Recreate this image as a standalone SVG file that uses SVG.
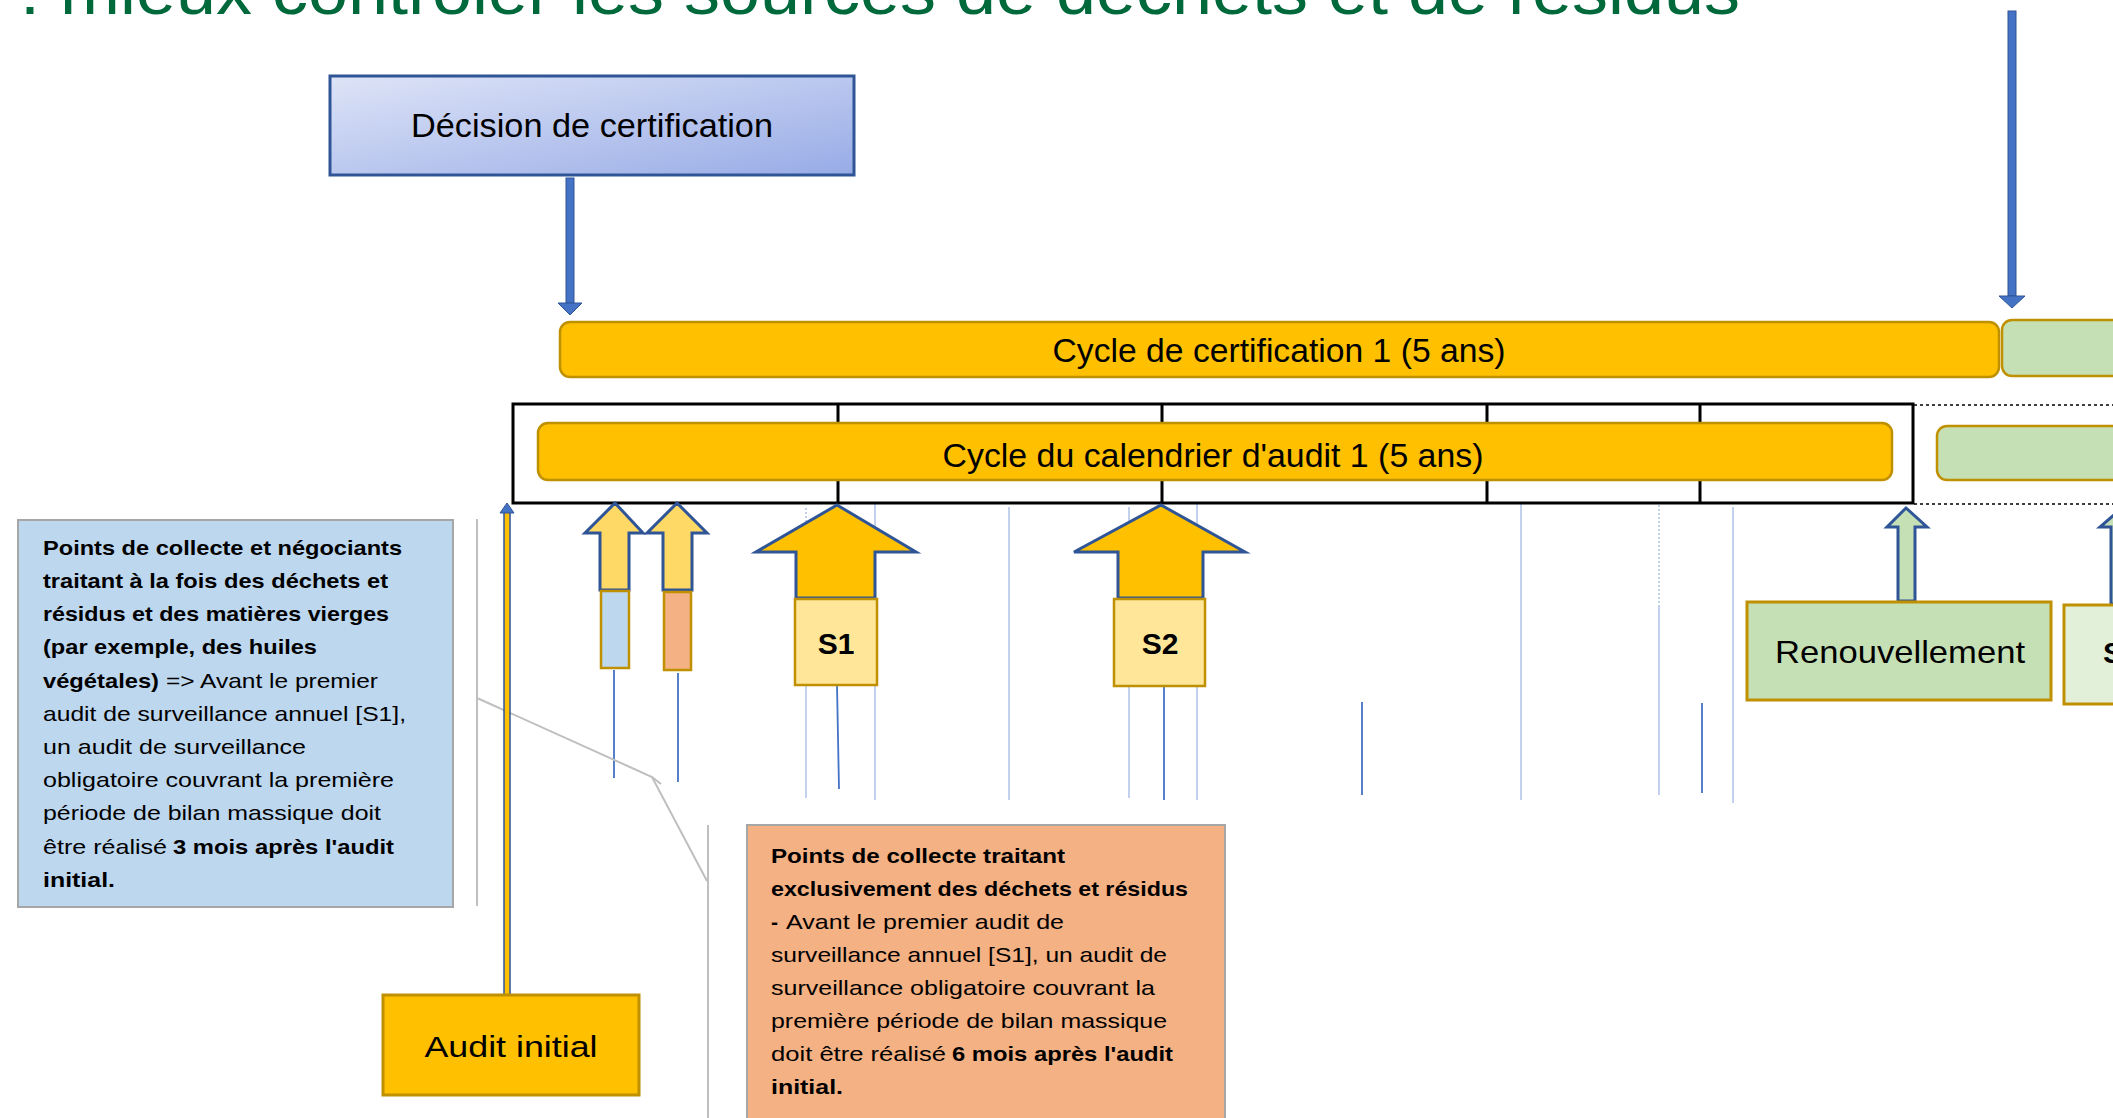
<svg xmlns="http://www.w3.org/2000/svg" width="2113" height="1118" viewBox="0 0 2113 1118">
<defs>
<linearGradient id="gDec" x1="0" y1="0" x2="1" y2="1">
<stop offset="0" stop-color="#DEE4F7"/>
<stop offset="1" stop-color="#97ABE6"/>
</linearGradient>
<style>
.t{font-family:"Liberation Sans",Arial,sans-serif;fill:#000}
.b{font-weight:bold}
.n{font-size:21px}
.bar-y{fill:#FFC000;stroke:#BF9000;stroke-width:2.5}
.bar-g{fill:#C5E0B4;stroke:#BF9000;stroke-width:2.5}
.gold{stroke:#BF9000;stroke-width:2.5}
.arr{stroke:#2F5597;stroke-width:3;stroke-linejoin:miter}
.lt{stroke:#AEC3E8;stroke-width:1.5;fill:none}
.ltd{stroke:#AEC3E8;stroke-width:1.5;fill:none;stroke-dasharray:2 2}
.dk{stroke:#4472C4;stroke-width:1.8;fill:none}
.gr{stroke:#BFBFBF;stroke-width:2;fill:none}
.blk{stroke:#000;stroke-width:3;fill:none}
.dot{stroke:#000;stroke-width:1.5;stroke-dasharray:3 3;fill:none}
.barrow{fill:#4472C4;stroke:#2F5597;stroke-width:1}
</style>
</defs>
<rect width="2113" height="1118" fill="#FFFFFF"/>

<g id="title">
<text x="20" y="14" font-family="Liberation Sans, Arial, sans-serif" font-size="68" fill="#00693C" textLength="1720" lengthAdjust="spacingAndGlyphs">: mieux contrôler les sources de déchets et de résidus</text>
</g>

<g id="connectors">
<path class="ltd" d="M806,508 V610"/>
<path class="lt" d="M806,610 V798"/>
<path class="lt" d="M875,503 V800"/>
<path class="lt" d="M1009,507 V800"/>
<path class="lt" d="M1129,507 V798"/>
<path class="lt" d="M1197,503 V800"/>
<path class="lt" d="M1521,503 V800"/>
<path class="ltd" d="M1659,505 V607"/>
<path class="lt" d="M1659,607 V795"/>
<path class="lt" d="M1733,507 V803"/>
<path class="dk" d="M614,670 V778"/>
<path class="dk" d="M678,673 V782"/>
<path class="dk" d="M837,685 L839,789"/>
<path class="dk" d="M1164,687 V800"/>
<path class="dk" d="M1362,702 V795"/>
<path class="dk" d="M1702,703 V793"/>
<path class="gr" d="M477,519 V906"/>
<path class="gr" d="M477,698 L652,777 L707,881"/>
<path class="gr" d="M652,777 L661,784"/>
<path class="gr" d="M708,825 V1118"/>
<rect class="barrow" x="566" y="178" width="8" height="125"/>
<polygon class="barrow" points="558,303 582,303 570,315"/>
<rect class="barrow" x="2008" y="11" width="8" height="285"/>
<polygon class="barrow" points="1999,296 2025,296 2012,308"/>
<rect x="504" y="512" width="6" height="484" fill="#FFC000" stroke="#2F5597" stroke-width="1.5"/>
<polygon class="barrow" points="507,503 514,513 500,513"/>
</g>

<g id="node-decision">
<rect x="330" y="76" width="524" height="99" fill="url(#gDec)" stroke="#2F5597" stroke-width="3"/>
<text class="t" x="592" y="137" font-size="33" text-anchor="middle" textLength="362" lengthAdjust="spacingAndGlyphs">Décision de certification</text>
</g>

<g id="node-cycle-cert-1">
<rect class="bar-y" x="560" y="322" width="1439" height="55" rx="10"/>
<text class="t" x="1279" y="362" font-size="33" text-anchor="middle" textLength="453" lengthAdjust="spacingAndGlyphs">Cycle de certification 1 (5 ans)</text>
</g>
<g id="node-cycle-cert-2">
<rect class="bar-g" x="2002" y="320" width="160" height="56" rx="10"/>
</g>

<g id="node-calendar">
<rect x="513" y="404" width="1400" height="99" fill="#FFFFFF" stroke="#000" stroke-width="3"/>
<path class="blk" d="M838,404 V503 M1162,404 V503 M1487,404 V503 M1700,404 V503"/>
<path class="dot" d="M1914,405 H2113 M1914,504 H2113"/>
</g>

<g id="node-cycle-audit-1">
<rect class="bar-y" x="538" y="423" width="1354" height="57" rx="10"/>
<text class="t" x="1213" y="467" font-size="33" text-anchor="middle" textLength="541" lengthAdjust="spacingAndGlyphs">Cycle du calendrier d'audit 1 (5 ans)</text>
</g>
<g id="node-cycle-audit-2">
<rect class="bar-g" x="1937" y="426" width="200" height="54" rx="10"/>
</g>

<g id="node-pre-audit-blue">
<polygon class="arr" fill="#FFD966" points="615,503 643,533 629,533 629,590 600,590 600,533 585,533"/>
<rect class="gold" x="601" y="591" width="28" height="77" fill="#BDD7EE"/>
</g>
<g id="node-pre-audit-orange">
<polygon class="arr" fill="#FFD966" points="677,503 707,533 692,533 692,590 663,590 663,533 647,533"/>
<rect class="gold" x="664" y="592" width="27" height="78" fill="#F4B183"/>
</g>

<g id="node-s1">
<polygon class="arr" fill="#FFC000" points="837,505 916,552 875,552 875,598 796,598 796,552 756,552"/>
<rect class="gold" x="795" y="599" width="82" height="86" fill="#FFE699"/>
<text class="t b" x="836" y="654" font-size="30" text-anchor="middle">S1</text>
</g>

<g id="node-s2">
<polygon class="arr" fill="#FFC000" points="1161,505 1245,552 1203,552 1203,598 1118,598 1118,552 1074,552"/>
<rect class="gold" x="1114" y="599" width="91" height="87" fill="#FFE699"/>
<text class="t b" x="1160" y="654" font-size="30" text-anchor="middle">S2</text>
</g>

<g id="node-renouvellement">
<polygon class="arr" stroke-width="2.5" fill="#C5E0B4" points="1906,508 1927,527 1915,527 1915,601 1898,601 1898,527 1887,527"/>
<rect x="1747" y="602" width="304" height="98" fill="#C5E0B4" stroke="#BF9000" stroke-width="3"/>
<text class="t" x="1900" y="663" font-size="32" text-anchor="middle" textLength="250" lengthAdjust="spacingAndGlyphs">Renouvellement</text>
</g>

<g id="node-s-next">
<polygon class="arr" stroke-width="2.5" fill="#C5E0B4" points="2122,508 2142,527 2130,527 2130,604 2111,604 2111,527 2100,527"/>
<rect x="2064" y="605" width="100" height="99" fill="#E2F0D9" stroke="#BF9000" stroke-width="3"/>
<text class="t b" x="2103" y="663" font-size="30">S</text>
</g>

<g id="node-audit-initial">
<rect x="383" y="995" width="256" height="100" fill="#FFC000" stroke="#BF9000" stroke-width="3"/>
<text class="t" x="511" y="1057" font-size="30" text-anchor="middle" textLength="173" lengthAdjust="spacingAndGlyphs">Audit initial</text>
</g>

<g id="node-note-blue">
<rect x="18" y="520" width="435" height="387" fill="#BDD7EE" stroke="#A6A6A6" stroke-width="2"/>
<g class="t n">
<text class="b" x="43" y="555" textLength="359" lengthAdjust="spacingAndGlyphs">Points de collecte et négociants</text>
<text class="b" x="43" y="588" textLength="345" lengthAdjust="spacingAndGlyphs">traitant à la fois des déchets et</text>
<text class="b" x="43" y="621" textLength="346" lengthAdjust="spacingAndGlyphs">résidus et des matières vierges</text>
<text class="b" x="43" y="654" textLength="274" lengthAdjust="spacingAndGlyphs">(par exemple, des huiles</text>
<text class="b" x="43" y="688" textLength="116" lengthAdjust="spacingAndGlyphs">végétales)</text>
<text x="166" y="688" textLength="212" lengthAdjust="spacingAndGlyphs">=&gt; Avant le premier</text>
<text x="43" y="721" textLength="363" lengthAdjust="spacingAndGlyphs">audit de surveillance annuel [S1],</text>
<text x="43" y="754" textLength="263" lengthAdjust="spacingAndGlyphs">un audit de surveillance</text>
<text x="43" y="787" textLength="351" lengthAdjust="spacingAndGlyphs">obligatoire couvrant la première</text>
<text x="43" y="820" textLength="338" lengthAdjust="spacingAndGlyphs">période de bilan massique doit</text>
<text x="43" y="854" textLength="124" lengthAdjust="spacingAndGlyphs">être réalisé</text>
<text class="b" x="173" y="854" textLength="221" lengthAdjust="spacingAndGlyphs">3 mois après l'audit</text>
<text class="b" x="43" y="887" textLength="72" lengthAdjust="spacingAndGlyphs">initial.</text>
</g>
</g>

<g id="node-note-orange">
<rect x="747" y="825" width="478" height="300" fill="#F4B183" stroke="#A6A6A6" stroke-width="2"/>
<g class="t n">
<text class="b" x="771" y="863" textLength="294" lengthAdjust="spacingAndGlyphs">Points de collecte traitant</text>
<text class="b" x="771" y="896" textLength="417" lengthAdjust="spacingAndGlyphs">exclusivement des déchets et résidus</text>
<text class="b" x="771" y="929">-</text>
<text x="786" y="929" textLength="278" lengthAdjust="spacingAndGlyphs">Avant le premier audit de</text>
<text x="771" y="962" textLength="396" lengthAdjust="spacingAndGlyphs">surveillance annuel [S1], un audit de</text>
<text x="771" y="995" textLength="384" lengthAdjust="spacingAndGlyphs">surveillance obligatoire couvrant la</text>
<text x="771" y="1028" textLength="396" lengthAdjust="spacingAndGlyphs">première période de bilan massique</text>
<text x="771" y="1061" textLength="175" lengthAdjust="spacingAndGlyphs">doit être réalisé</text>
<text class="b" x="952" y="1061" textLength="221" lengthAdjust="spacingAndGlyphs">6 mois après l'audit</text>
<text class="b" x="771" y="1094" textLength="72" lengthAdjust="spacingAndGlyphs">initial.</text>
</g>
</g>
</svg>
